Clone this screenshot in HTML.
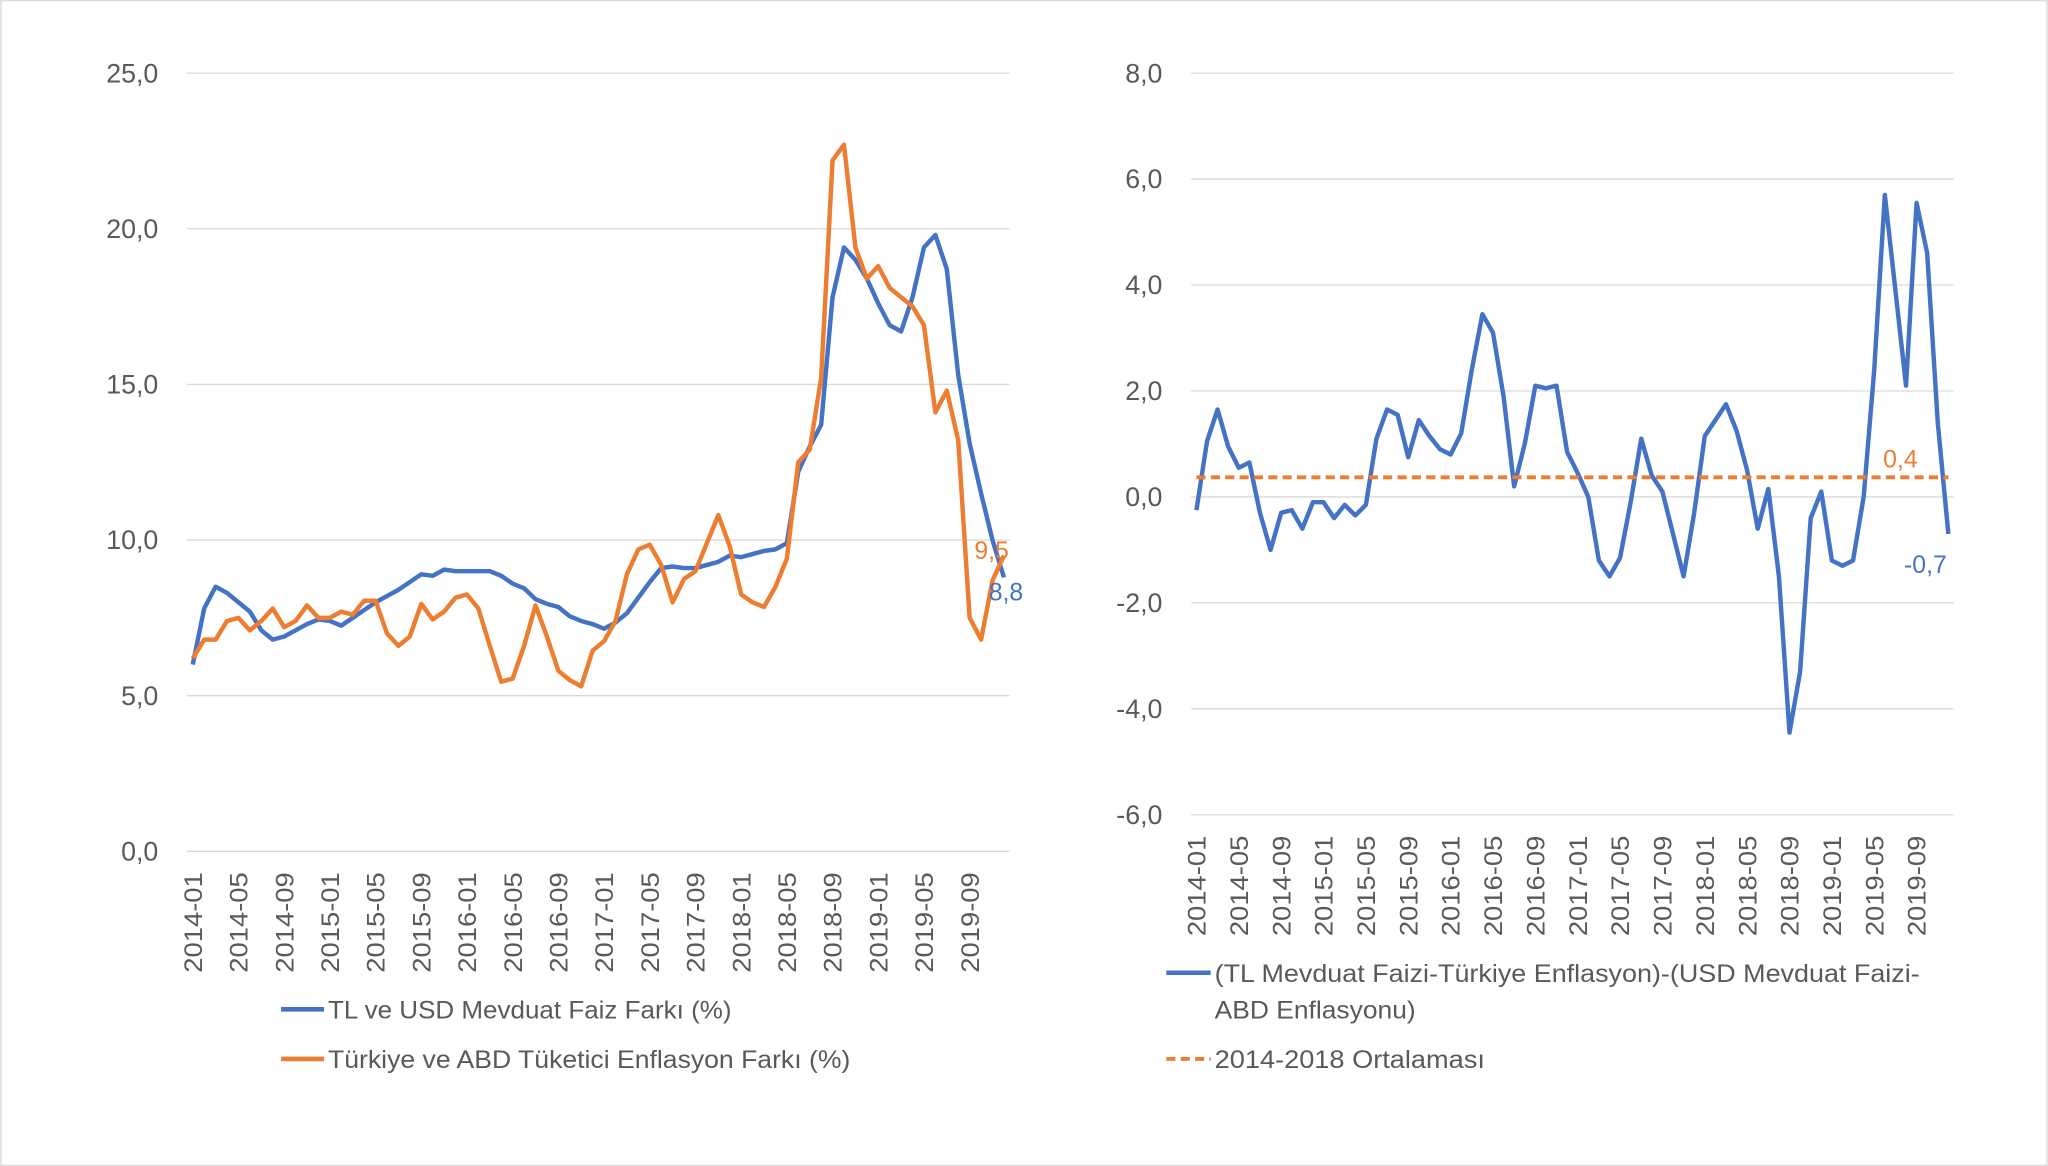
<!DOCTYPE html>
<html><head><meta charset="utf-8"><style>
html,body{margin:0;padding:0;background:#fff;}
svg{display:block;font-family:"Liberation Sans",sans-serif;}
</style></head><body>
<svg id="chart" width="2048" height="1166" viewBox="0 0 1568 893" xmlns="http://www.w3.org/2000/svg">
<rect x="0.5" y="0.5" width="1567" height="892" fill="#fff" stroke="#d9d9d9"/>
<g id="left"></g>
<g id="right"></g>
<g>
<line x1="215" y1="773" x2="248" y2="773" stroke="#4472c4" stroke-width="3.5"/>
<text x="251" y="780" font-size="19" fill="#595959" textLength="309" lengthAdjust="spacingAndGlyphs">TL ve USD Mevduat Faiz Farkı (%)</text>
<line x1="215" y1="811" x2="248" y2="811" stroke="#ed7d31" stroke-width="3.5"/>
<text x="251" y="818" font-size="19" fill="#595959" textLength="400" lengthAdjust="spacingAndGlyphs">Türkiye ve ABD Tüketici Enflasyon Farkı (%)</text>
</g>
<g>
<line x1="893" y1="745" x2="927" y2="745" stroke="#4472c4" stroke-width="3.5"/>
<text x="930" y="752" font-size="19" fill="#595959" textLength="540" lengthAdjust="spacingAndGlyphs">(TL Mevduat Faizi-Türkiye Enflasyon)-(USD Mevduat Faizi-</text>
<text x="930" y="780" font-size="19" fill="#595959" textLength="154" lengthAdjust="spacingAndGlyphs">ABD Enflasyonu)</text>
<line x1="893" y1="811" x2="927" y2="811" stroke="#ed7d31" stroke-width="3" stroke-dasharray="7,4"/>
<text x="930" y="818" font-size="19" fill="#595959" textLength="207" lengthAdjust="spacingAndGlyphs">2014-2018 Ortalaması</text>
</g>
</svg>
<script>
const leftBlue = [6.0,7.8,8.5,8.3,8.0,7.7,7.1,6.8,6.9,7.1,7.3,7.45,7.4,7.25,7.5,7.75,8.0,8.2,8.4,8.65,8.9,8.85,9.05,9.0,9.0,9.0,9.0,8.85,8.6,8.45,8.1,7.95,7.85,7.55,7.4,7.3,7.15,7.35,7.65,8.15,8.65,9.1,9.15,9.1,9.1,9.2,9.3,9.5,9.45,9.55,9.65,9.7,9.9,12.2,13.0,13.7,17.8,19.4,19.0,18.4,17.6,16.9,16.7,17.8,19.4,19.8,18.7,15.3,13.1,11.5,10.0,8.8];
const leftOrange = [6.2,6.8,6.8,7.4,7.5,7.1,7.4,7.8,7.2,7.4,7.9,7.5,7.5,7.7,7.6,8.05,8.05,7.0,6.6,6.9,7.95,7.45,7.7,8.15,8.25,7.8,6.6,5.45,5.55,6.6,7.9,6.9,5.8,5.5,5.3,6.45,6.75,7.4,8.9,9.7,9.85,9.2,8.0,8.75,9.0,9.9,10.8,9.8,8.25,8.0,7.85,8.5,9.4,12.5,12.9,15.2,22.2,22.7,19.4,18.4,18.8,18.1,17.8,17.5,16.9,14.1,14.8,13.2,7.5,6.8,8.7,9.5];
const rightBlue = [-0.25,1.05,1.65,0.95,0.55,0.65,-0.3,-1.0,-0.3,-0.25,-0.6,-0.1,-0.1,-0.4,-0.15,-0.35,-0.15,1.1,1.65,1.55,0.75,1.45,1.15,0.9,0.8,1.2,2.4,3.45,3.1,1.9,0.2,1.0,2.1,2.05,2.1,0.85,0.45,0.0,-1.2,-1.5,-1.15,-0.1,1.1,0.4,0.1,-0.7,-1.5,-0.3,1.15,1.45,1.75,1.25,0.5,-0.6,0.15,-1.5,-4.45,-3.3,-0.4,0.1,-1.2,-1.3,-1.2,0.0,2.4,5.7,3.9,2.1,5.55,4.6,1.4,-0.7];
const rightAvg = [0.37];
const leftTicks = [0,5,10,15,20,25];
const rightTicks = [-6,-4,-2,0,2,4,6,8];
const leftEndLabels = ["9,5","8,8"];
const rightEndLabels = ["0,4","-0,7"];
const months = [];
for (let y=2014;y<=2019;y++) for (let m=1;m<=12;m++) months.push(y+'-'+String(m).padStart(2,'0'));

const NS='http://www.w3.org/2000/svg';
function mk(parent,tag,attrs){const e=document.createElementNS(NS,tag);for(const k in attrs)e.setAttribute(k,attrs[k]);parent.appendChild(e);return e;}
function fmt(v){return v.toFixed(1).replace('.',',');}

function drawChart(g, cfg){
  const n = months.length;
  const band = (cfg.x1-cfg.x0)/n;
  const xs = i => cfg.x0 + band*(i+0.5);
  const ys = v => cfg.yBottom - (v-cfg.yMin)/(cfg.yMax-cfg.yMin)*(cfg.yBottom-cfg.yTop);
  cfg.ticks.forEach(t=>{
    const l=mk(g,'line',{x1:cfg.x0,x2:cfg.x1,y1:ys(t),y2:ys(t),stroke:'#d9d9d9','stroke-width':1});
    
    
    const tx=mk(g,'text',{x:cfg.x0-22,y:ys(t)+7,'text-anchor':'end','font-size':20.5,fill:'#595959'});
    tx.textContent=fmt(t);
    
    
  });
  months.forEach((m,i)=>{
    if(i%4!==0) return;
    const x=xs(i);
    const tx=mk(g,'text',{x:0,y:0,transform:`translate(${x+7},${cfg.yBottom+16}) rotate(-90)`,'text-anchor':'end','font-size':19,fill:'#595959',textLength:77,lengthAdjust:'spacingAndGlyphs'});
    tx.textContent=m;
    
    
  });
  cfg.series.forEach(s=>{
    let d='';
    s.values.forEach((v,i)=>{d+=(i?'L':'M')+xs(i).toFixed(2)+','+ys(v).toFixed(2);});
    const p=mk(g,'path',{d:d,fill:'none',stroke:s.color,'stroke-width':3.4,'stroke-linejoin':'round'});
    
    
  });
  if(cfg.avg){
    const y=ys(cfg.avg[0]);
    const l=mk(g,'line',{x1:xs(0),x2:xs(n-1),y1:y,y2:y,stroke:'#ed7d31','stroke-width':3,'stroke-dasharray':'7,4'});
    
    
  }
  cfg.labels.forEach(lb=>{
    const tx=mk(g,'text',{x:lb.x,y:lb.y,'font-size':19,fill:lb.color});
    tx.textContent=lb.text;
    
    
  });
}
drawChart(document.getElementById('left'),{x0:143,x1:773,yTop:56,yBottom:652,yMin:0,yMax:25,ticks:leftTicks,
  series:[{values:leftBlue,color:'#4472c4',name:'rate-diff-line'},{values:leftOrange,color:'#ed7d31',name:'inflation-diff-line'}],
  labels:[{text:leftEndLabels[0],x:746,y:428,color:'#ed7d31'},{text:leftEndLabels[1],x:757,y:460,color:'#4472c4'}]});
drawChart(document.getElementById('right'),{x0:912,x1:1496,yTop:56,yBottom:624,yMin:-6,yMax:8,ticks:rightTicks,
  series:[{values:rightBlue,color:'#4472c4',name:'real-diff-line'}],avg:rightAvg,
  labels:[{text:rightEndLabels[0],x:1442,y:358,color:'#ed7d31'},{text:rightEndLabels[1],x:1458,y:439,color:'#4472c4'}]});
</script>
</body></html>
